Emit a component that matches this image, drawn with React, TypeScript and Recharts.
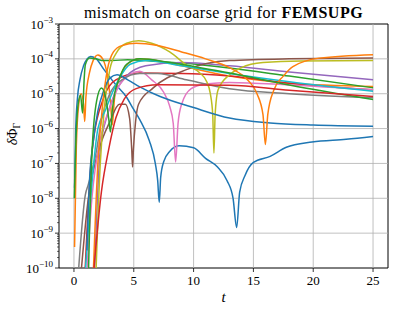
import React from 'react'
import { LineChart, Line, XAxis, YAxis, ReferenceLine, ReferenceArea } from 'recharts'

const COLORS = ['#1f77b4', '#ff7f0e', '#2ca02c', '#d62728', '#9467bd', '#8c564b', '#e377c2', '#7f7f7f', '#bcbd22', '#17becf']

const xTicks = [0, 5, 10, 15, 20, 25]
const yMajor = [1e-10, 1e-9, 1e-8, 1e-7, 1e-6, 1e-5, 1e-4, 1e-3]
const minorSubs = [2, 3, 4, 5, 6, 7, 8, 9]

// one pair of arrays per curve: times and mismatch values
const b1T = [0.05, 0.15, 0.3, 0.5, 0.8, 1.1, 1.4, 1.8, 2.5, 3.5, 4.4, 4.9, 5.5, 6.3, 6.8, 7.0, 7.13, 7.25, 7.5, 8.0, 8.8, 10, 11, 12, 12.8, 13.3, 13.6, 13.85, 14.3, 15, 16.4, 17.75, 19.9, 22.75, 25]
const b1V = [2.0e-8, 1.0e-6, 7.9e-6, 2.5e-5, 6.3e-5, 1.0e-4, 1.17e-4, 1.05e-4, 5.0e-5, 1.8e-5, 7.9e-6, 4.0e-6, 1.8e-6, 4.5e-7, 1.0e-7, 3.2e-8, 7.6e-9, 4.0e-8, 1.12e-7, 2.2e-7, 3.2e-7, 2.8e-7, 1.4e-7, 7.9e-8, 3.2e-8, 1.0e-8, 1.45e-9, 1.5e-8, 4.5e-8, 1.07e-7, 1.6e-7, 2.9e-7, 4.1e-7, 4.9e-7, 5.9e-7]

const o1T = [0.05, 0.2, 0.4, 0.6, 0.8, 0.9, 1.0, 1.3, 1.6, 2.0, 2.4, 2.8, 3.05, 3.2, 3.4, 4.0, 4.6, 5.5, 7, 9, 13, 18, 25]
const o1V = [4e-10, 3.2e-7, 5e-6, 1e-5, 5e-6, 1.6e-6, 7.9e-6, 4e-5, 8.9e-5, 1.29e-4, 1e-4, 3.2e-5, 6.3e-6, 1.26e-6, 7.9e-6, 4e-5, 7.6e-5, 1e-4, 8.9e-5, 6.3e-5, 3.2e-5, 2e-5, 1.62e-5]

const g1T = [0.03, 0.15, 0.35, 0.55, 0.72, 0.85, 0.95, 1.3, 1.8, 2.5, 3.2, 4.5, 5.9, 9, 12.8, 18, 25]
const g1V = [1e-8, 3.2e-7, 5e-6, 9e-6, 2.8e-6, 2.5e-5, 6.8e-5, 1.05e-4, 1e-4, 8.9e-5, 8.9e-5, 9.5e-5, 8.9e-5, 7.6e-5, 5.6e-5, 3.2e-5, 1.48e-5]

const r1T = [0.9, 1.5, 2.5, 3.5, 5.5, 9, 13, 18, 25]
const r1V = [5e-11, 2e-7, 7.9e-6, 2.5e-5, 3.9e-5, 3.8e-5, 3.2e-5, 2e-5, 1.29e-5]

const pT = [1.7, 2.2, 2.8, 3.4, 4.4, 6, 9, 13, 18, 25]
const pV = [5e-11, 2.5e-7, 2.5e-6, 1e-5, 3.2e-5, 6.3e-5, 7.9e-5, 6.3e-5, 4.2e-5, 2.5e-5]

const brT = [0.5, 1.2, 2.0, 3.0, 3.8, 4.3, 4.65, 4.83, 4.9, 4.97, 5.15, 5.4, 6.6, 9.4, 13, 18, 25]
const brV = [3e-11, 1e-8, 2e-7, 1.58e-6, 5e-6, 5e-6, 2e-6, 2.5e-7, 7.9e-8, 2.5e-7, 1.58e-6, 5e-6, 1.45e-5, 4.9e-5, 8.9e-5, 1e-4, 1.05e-4]

const pkT = [1.0, 1.5, 2.2, 3.0, 4.0, 5.5, 6.5, 7.5, 8.0, 8.3, 8.5, 8.7, 9.0, 9.8, 11, 13, 18, 25]
const pkV = [3e-11, 1e-8, 5e-7, 4e-6, 2.2e-5, 4.4e-5, 2.5e-5, 1.1e-5, 4.4e-6, 1.4e-6, 1.1e-7, 1.4e-6, 5e-6, 1.4e-5, 1.9e-5, 2.1e-5, 1.78e-5, 1.29e-5]

const gyT = [0.35, 0.95, 1.2, 1.9, 2.3, 3.0, 4.0, 5.5, 7, 9.4, 13, 18, 25]
const gyV = [6e-11, 1.26e-8, 2.5e-8, 2.5e-7, 1.8e-6, 1e-5, 2.5e-5, 3.8e-5, 3.8e-5, 2.5e-5, 1.38e-5, 1e-5, 7.6e-6]

const olT = [1.8, 2.2, 2.6, 3.0, 3.6, 4.4, 5.4, 6.5, 8, 9.5, 10.5, 11.1, 11.4, 11.6, 11.7, 11.8, 12.05, 13, 14, 15.8, 19, 25]
const olV = [3e-11, 1e-7, 6.3e-6, 5e-5, 1.58e-4, 2.8e-4, 3.3e-4, 2.8e-4, 1.58e-4, 6.3e-5, 4e-5, 2.2e-5, 1e-5, 2.5e-6, 2e-7, 2.5e-6, 1.3e-5, 3.5e-5, 5.6e-5, 7.8e-5, 8.7e-5, 8.9e-5]

const cT = [0.9, 1.4, 2.0, 2.6, 3.3, 3.9, 4.7, 6, 9, 13, 18, 25]
const cV = [5e-11, 1e-8, 1e-6, 3.2e-6, 1.26e-5, 3.2e-5, 7e-5, 8.9e-5, 6.3e-5, 3.8e-5, 2.2e-5, 1.17e-5]

const b2T = [1.08, 1.3, 1.6, 2.0, 2.5, 3.0, 3.6, 4.5, 5.5, 7.2, 10, 13, 16.4, 20, 25]
const b2V = [3.2e-10, 3.2e-8, 4e-7, 3.2e-6, 1.26e-5, 2.8e-5, 3.5e-5, 2.5e-5, 1.58e-5, 8.3e-6, 4e-6, 2e-6, 1.45e-6, 1.26e-6, 1.17e-6]

const o2T = [1.6, 2.0, 2.4, 2.8, 3.3, 4.0, 5.2, 7, 9, 11, 13, 14.5, 15.3, 15.8, 16.0, 16.2, 16.7, 17.5, 18.3, 20.5, 25]
const o2V = [5e-11, 1e-7, 5e-6, 5e-5, 1.58e-4, 2.4e-4, 2.8e-4, 2.4e-4, 1.58e-4, 1e-4, 5.6e-5, 2.5e-5, 1e-5, 2.5e-6, 3.5e-7, 2.5e-6, 1.26e-5, 3.2e-5, 6e-5, 1.05e-4, 1.32e-4]

const g2T = [1.2, 1.5, 1.9, 2.3, 2.7, 2.9, 3.05, 3.2, 3.4, 3.8, 4.4, 5.5, 8, 13, 18, 25]
const g2V = [5e-11, 1.8e-7, 6.3e-6, 1.45e-5, 6.3e-6, 2e-6, 8e-7, 3.2e-6, 1e-5, 2.8e-5, 7e-5, 1e-4, 7.9e-5, 3.9e-5, 1.78e-5, 6.8e-6]

const r2T = [1.6, 2.3, 2.9, 3.5, 4.2, 5.2, 7, 13, 18, 25]
const r2V = [5e-11, 1.58e-8, 2.5e-7, 2e-6, 7e-6, 1.4e-5, 1.8e-5, 1.74e-5, 1.26e-5, 8.3e-6]

const curves = [
  [b1T, b1V], [o1T, o1V], [g1T, g1V], [r1T, r1V], [pT, pV], [brT, brV], [pkT, pkV],
  [gyT, gyV], [olT, olV], [cT, cV], [b2T, b2V], [o2T, o2V], [g2T, g2V], [r2T, r2V]
]

const series = curves.map(([ts, vs], i) => ({
  color: COLORS[i % COLORS.length],
  data: ts.map((t, k) => ({ t, v: vs[k] }))
}))

const yTicks = [
  ...yMajor,
  ...yMajor.slice(0, -1).flatMap((d) => minorSubs.map((s) => s * d))
].sort((a, b) => a - b)

const FONT = '"Liberation Serif", "DejaVu Serif", serif'
const GRID = '#b0b0b0'

const YTick = (props: any) => {
  const { x, y, payload } = props
  const v = payload.value as number
  const exp = Math.round(Math.log10(v))
  const major = Math.abs(v - Math.pow(10, exp)) < 1e-6 * v
  return (
    <g>
      <line x1={x} x2={x - (major ? 4 : 2)} y1={y} y2={y} stroke="#000" strokeWidth={major ? 0.8 : 0.6} />
      {major && (
        <text x={x - 6} y={y + 4.5} textAnchor="end" fontFamily={FONT} fontSize={13} fill="#000">
          10<tspan dy={-6} fontSize={9}>{'\u2212' + -exp}</tspan>
        </text>
      )}
    </g>
  )
}

const XTick = (props: any) => {
  const { x, y, payload } = props
  return (
    <g>
      <line x1={x} x2={x} y1={y} y2={y + 4} stroke="#000" strokeWidth={0.8} />
      <text x={x} y={y + 17} textAnchor="middle" fontFamily={FONT} fontSize={13} fill="#000">
        {payload.value}
      </text>
    </g>
  )
}

export default function App() {
  return (
    <div style={{ position: 'relative', width: 398, height: 310, background: '#fff' }}>
      <style>{'body{margin:0}'}</style>
      <LineChart width={398} height={310} margin={{ top: 24, right: 10, bottom: 0, left: 0 }}>
        <XAxis
          type="number"
          dataKey="t"
          domain={[-1.25, 26.25]}
          ticks={xTicks}
          allowDataOverflow
          height={42}
          interval={0}
          tickSize={0}
          tickMargin={0}
          tickLine={false}
          axisLine={false}
          tick={(p: any) => <XTick {...p} />}
        />
        <YAxis
          type="number"
          scale="log"
          domain={[1e-10, 1e-3]}
          ticks={yTicks}
          allowDataOverflow
          width={59}
          interval={0}
          tickSize={0}
          tickMargin={0}
          tickLine={false}
          axisLine={false}
          tick={(p: any) => <YTick {...p} />}
        />
        {yMajor.slice(1, -1).map((v) => (
          <ReferenceLine key={'h' + v} y={v} stroke={GRID} strokeWidth={0.8} />
        ))}
        {xTicks.map((v) => (
          <ReferenceLine key={'v' + v} x={v} stroke={GRID} strokeWidth={0.8} />
        ))}
        {series.map((s, i) => (
          <Line
            key={i}
            data={s.data}
            dataKey="v"
            type="monotone"
            stroke={s.color}
            strokeWidth={1.5}
            dot={false}
            activeDot={false}
            isAnimationActive={false}
          />
        ))}
        <ReferenceArea x1={-1.25} x2={26.25} y1={1e-10} y2={1e-3} fill="none" stroke="#000" strokeWidth={1} ifOverflow="visible" />
      </LineChart>
      <svg width={398} height={310} style={{ position: 'absolute', left: 0, top: 0, pointerEvents: 'none' }}>
        <text x={223.5} y={18} textAnchor="middle" fontFamily={FONT} fontSize={16} letterSpacing={0.5} fill="#000">
          mismatch on coarse grid for <tspan fontWeight="bold">FEMSUPG</tspan>
        </text>
        <text x={223.5} y={302} textAnchor="middle" fontFamily={FONT} fontStyle="italic" fontSize={15} fill="#000">
          t
        </text>
        <text transform="translate(17,134) rotate(-90)" textAnchor="middle" fontFamily={FONT} fontSize={14} fill="#000">
          <tspan fontStyle="italic">δ</tspan>Φ<tspan dy={3} fontSize={10}>Γ</tspan>
        </text>
      </svg>
    </div>
  )
}
